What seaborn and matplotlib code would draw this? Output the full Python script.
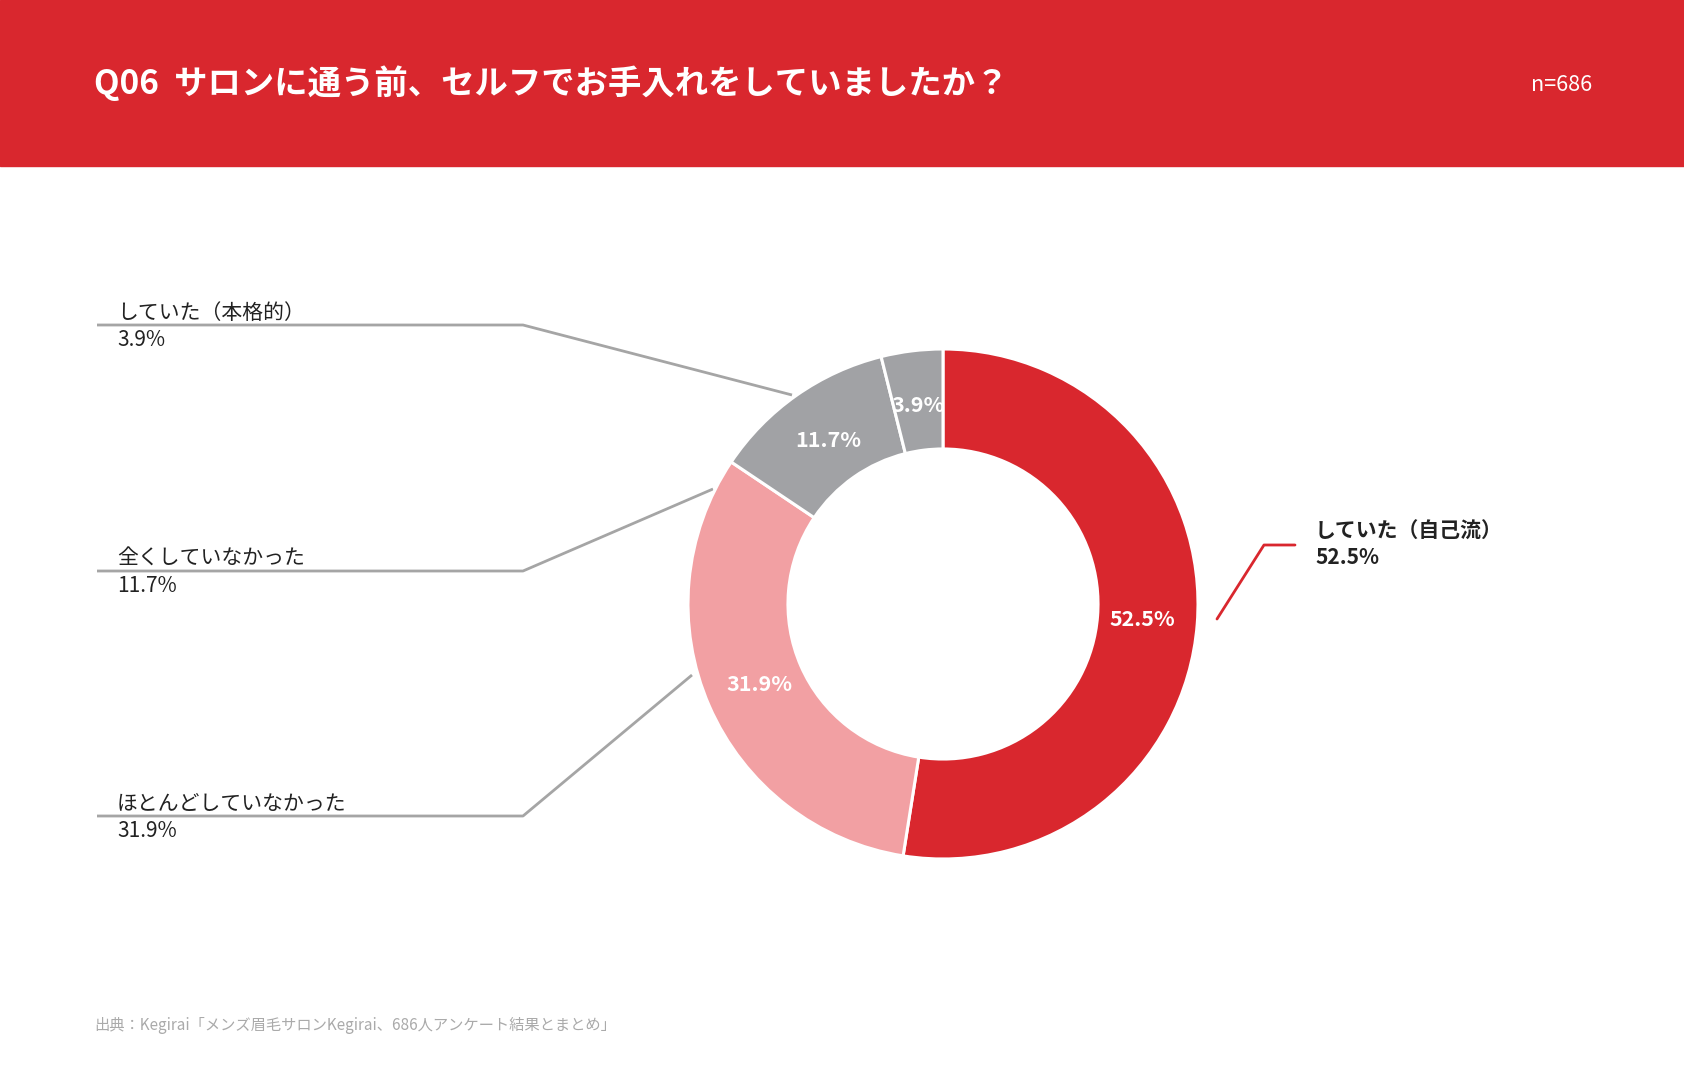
import matplotlib
matplotlib.use("Agg")
import matplotlib.pyplot as plt
from matplotlib.patches import Rectangle
import numpy as np
import seaborn as sns

# ---- data ----
categories = ["していた（自己流）", "ほとんどしていなかった", "全くしていなかった", "していた（本格的）"]
values = [52.5, 31.9, 11.7, 3.9]
value_labels = ["52.5%", "31.9%", "11.7%", "3.9%"]
title_text = "Q06  サロンに通う前、セルフでお手入れをしていましたか？"
n_text = "n=686"
source_text = "出典：Kegirai「メンズ眉毛サロンKegirai、686人アンケート結果とまとめ」"

# ---- style ----
RED = "#D9272E"
PINK = "#F2A0A3"
GRAY = "#A1A2A5"
LINE_GRAY = "#A5A5A5"
slice_colors = [RED, PINK, GRAY, GRAY]

sns.set_theme(style="white")
plt.rcParams["font.family"] = ["Noto Sans CJK JP", "DejaVu Sans"]

W, H = 1684, 1089
fig = plt.figure(figsize=(W / 100, H / 100), dpi=100)
fig.patch.set_facecolor("white")

# overlay axes in pixel coordinates
ov = fig.add_axes([0, 0, 1, 1])
ov.set_xlim(0, W)
ov.set_ylim(H, 0)
ov.axis("off")

# header band
ov.add_patch(Rectangle((0, 0), W, 166, color=RED, zorder=0))
ov.text(94, 83, title_text, color="white", fontsize=24, fontweight="bold",
        va="center", ha="left")
ov.text(1592, 85, n_text, color="white", fontsize=15.5, va="center", ha="right")

# footer
ov.text(94, 1026, source_text, color="#AAAAAA", fontsize=11, va="center", ha="left")

# donut
cx, cy, R = 943, 604, 255
pax = fig.add_axes([(cx - R) / W, (H - cy - R) / H, 2 * R / W, 2 * R / H])
wedges, texts = pax.pie(values, colors=slice_colors, startangle=90, counterclock=False,
                        radius=1.0,
                        wedgeprops=dict(width=0.392, edgecolor="white", linewidth=2.2))
for w, lab in zip(wedges, value_labels):
    ang = np.deg2rad((w.theta1 + w.theta2) / 2)
    pax.text(0.785 * np.cos(ang), 0.785 * np.sin(ang), lab, color="white",
             fontsize=15.5, fontweight="bold", ha="center", va="center")
pax.set_xlim(-1, 1)
pax.set_ylim(-1, 1)
pax.set_aspect("equal")
pax.axis("off")

# leader lines + labels (left side, top to bottom)
left_items = [
    (categories[3], value_labels[3], 325, (792, 395)),
    (categories[2], value_labels[2], 571, (713, 489)),
    (categories[1], value_labels[1], 816, (692, 675)),
]
for name, pct, ly, end in left_items:
    ov.plot([97, 523, end[0]], [ly, ly, end[1]], color=LINE_GRAY, lw=2.0,
            solid_capstyle="butt", zorder=1)
    ov.text(117, ly - 1, name, color="#222222", fontsize=15, ha="left", va="bottom")
    ov.text(117, ly + 4, pct, color="#222222", fontsize=15, ha="left", va="top")

# right side label
ov.plot([1217, 1264, 1295], [619, 545, 545], color=RED, lw=2.0, zorder=1)
ov.text(1315, 531, categories[0], color="#222222", fontsize=15, fontweight="bold",
        ha="left", va="center")
ov.text(1315, 557, value_labels[0], color="#222222", fontsize=15, fontweight="bold",
        ha="left", va="center")

fig.savefig("out.png", dpi=100)
